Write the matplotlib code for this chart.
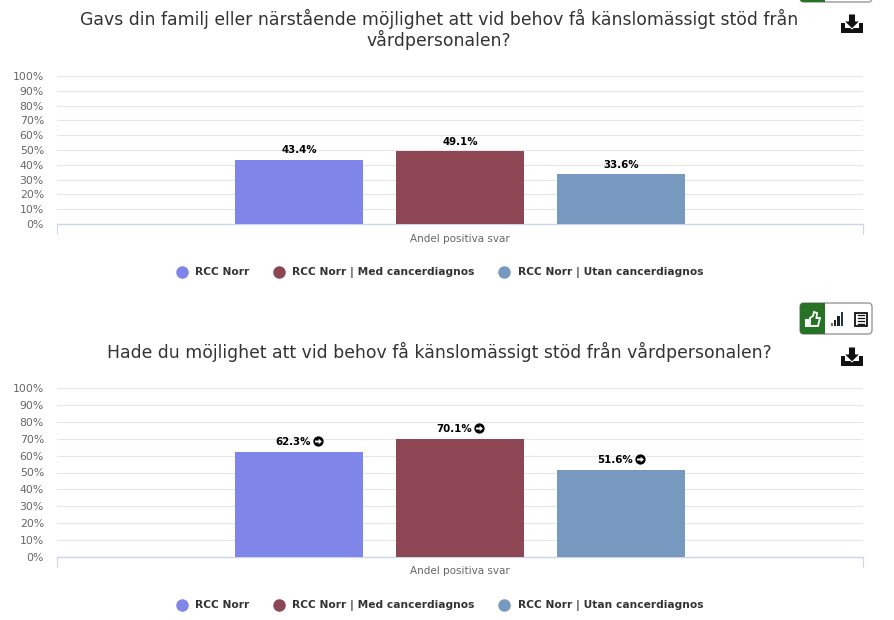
import matplotlib
matplotlib.use("Agg")
import matplotlib.pyplot as plt
from matplotlib.patches import FancyBboxPatch, Rectangle, Polygon
from matplotlib.lines import Line2D
from matplotlib.transforms import Affine2D

W, H = 895, 620
TITLE_1 = "Gavs din familj eller närstående möjlighet att vid behov få känslomässigt stöd från\nvårdpersonalen?"
TITLE_2 = "Hade du möjlighet att vid behov få känslomässigt stöd från vårdpersonalen?"
SERIES = ["RCC Norr", "RCC Norr | Med cancerdiagnos", "RCC Norr | Utan cancerdiagnos"]
VALUES_1 = [43.4, 49.1, 33.6]
VALUES_2 = [62.3, 70.1, 51.6]
COLORS = ["#8085e9", "#8d4654", "#7798bf"]
CATEGORY = "Andel positiva svar"
TICKS = list(range(0, 101, 10))
LEGEND_MARK_X = [182, 279, 504]
LEGEND_TEXT_X = [195, 292, 518]
ARROW = [(-1, .28), (0.05, .28), (0.05, .8), (1, 0), (0.05, -.8), (0.05, -.28), (-1, -.28)]

plt.rcParams["font.family"] = ["DejaVu Sans"]
fig = plt.figure(figsize=(W / 100, H / 100), dpi=100, facecolor="white")
px = Affine2D().scale(1, -1).translate(0, H)  # pixel coords, y down


def make_axes(top, bottom):
    ax = fig.add_axes([57 / W, 1 - bottom / H, (863 - 57) / W, (bottom - top) / H])
    ax.set_xlim(-2.503, 2.503)
    ax.set_ylim(0, 100)
    return ax


def draw_chart(ax, values, title, title_y, legend_y, arrows):
    xs = [-1, 0, 1]
    ax.bar(xs, values, width=0.795, color=COLORS, zorder=3, linewidth=0)
    for s in ["top", "left", "right"]:
        ax.spines[s].set_visible(False)
    ax.spines["bottom"].set_color("#ccd6eb")
    ax.spines["bottom"].set_linewidth(1)
    ax.set_yticks(TICKS)
    ax.set_yticklabels([f"{t}%" for t in TICKS], fontsize=7.8, color="#666666")
    ax.tick_params(axis="y", length=0, pad=9.4)
    ax.grid(axis="y", color="#e6e6e6", linewidth=0.8, zorder=0)
    ax.set_axisbelow(True)
    ax.set_xticks([-2.503, 2.503])
    ax.set_xticklabels(["", ""])
    ax.tick_params(axis="x", length=7.2, color="#ccd6eb", width=0.8, direction="out")
    ax.text(0, -9.5 / ax.bbox.height, CATEGORY, transform=ax.get_xaxis_transform(),
            ha="center", va="top", fontsize=7.5, color="#666666")

    for x, v in zip(xs, values):
        off = -4 if arrows else 0
        ax.annotate(f"{v:.1f}%", (x, v), xytext=(off, 3.2), textcoords="offset points",
                    ha="center", va="bottom", fontsize=7.4, fontweight="bold", color="black", zorder=5)
        if arrows:
            shift = ax.transData + Affine2D().translate(19, 11)
            ax.plot([x], [v], marker="o", ms=7.4, color="black", mew=0, zorder=6, clip_on=False, transform=shift)
            ax.plot([x], [v], marker=ARROW, ms=5, color="white", mew=0, zorder=7, clip_on=False, transform=shift)

    fig.text(439 / W, 1 - title_y / H, title, ha="center", va="center", fontsize=12.43,
             color="#333333", linespacing=1.1)

    for name, color, mx, tx in zip(SERIES, COLORS, LEGEND_MARK_X, LEGEND_TEXT_X):
        fig.add_artist(Line2D([mx], [legend_y], marker="o", ls="", ms=9, color=color, mew=0, transform=px))
        fig.text(tx / W, 1 - (legend_y + 3.5) / H, name, ha="left", va="baseline", fontsize=7.66,
                 fontweight="bold", color="#333333")


def download_icon(cx, top):
    c = "#111111"
    fig.add_artist(Polygon([(cx - 11, top + 9), (cx - 7, top + 9), (cx - 7, top + 14), (cx + 7, top + 14),
                            (cx + 7, top + 9), (cx + 11, top + 9), (cx + 11, top + 19), (cx - 11, top + 19)],
                           closed=True, fc=c, ec="none", transform=px))
    fig.add_artist(Polygon([(cx - 3.5, top), (cx + 3.5, top), (cx + 3.5, top + 7), (cx + 8, top + 7),
                            (cx, top + 15), (cx - 8, top + 7), (cx - 3.5, top + 7)],
                           closed=True, fc=c, ec="white", lw=0.7, transform=px))


def button_group(x0, y0, x1, y1):
    fig.add_artist(FancyBboxPatch((x0 + 3, y0 + 3), x1 - x0 - 6, y1 - y0 - 6,
                                  boxstyle="round,pad=3,rounding_size=4", fc="white", ec="#999999",
                                  lw=1, transform=px))
    fig.add_artist(FancyBboxPatch((x0 + 3, y0 + 3), 19, y1 - y0 - 6,
                                  boxstyle="round,pad=3,rounding_size=3", fc="#267326", ec="none",
                                  transform=px))
    fig.add_artist(Rectangle((x0 + 16, y0), 9, y1 - y0, fc="#267326", ec="none", transform=px))


def button_icons(x0, y0):
    # thumbs up
    fig.add_artist(Polygon([(x0 + 5, y0 + 16), (x0 + 8, y0 + 16), (x0 + 8, y0 + 23), (x0 + 5, y0 + 23)],
                           closed=True, fc="white", ec="white", lw=0.8, transform=px))
    fig.add_artist(Polygon([(x0 + 10, y0 + 15), (x0 + 13, y0 + 13), (x0 + 14, y0 + 9), (x0 + 17, y0 + 10),
                            (x0 + 16.5, y0 + 15), (x0 + 20, y0 + 15), (x0 + 18, y0 + 23), (x0 + 10, y0 + 23)],
                           closed=True, fc="none", ec="white", lw=1.3, transform=px))
    # bars
    for i, (bh, col) in enumerate(zip([3, 6, 10, 14], ["#7a6a3a", "#222222", "#222222", "#223355"])):
        fig.add_artist(Rectangle((x0 + 30.5 + i * 3.4, y0 + 23 - bh), 2.4, bh, fc=col, ec="none", transform=px))
    # table
    fig.add_artist(Rectangle((x0 + 55, y0 + 9.5), 11.5, 13.5, fc="white", ec="#111111", lw=1.3, transform=px))
    for k in range(4):
        fig.add_artist(Line2D([x0 + 57.5, x0 + 64], [y0 + 12.2 + k * 2.8] * 2, color="#111111", lw=0.9,
                              transform=px))


ax1 = make_axes(76, 224)
draw_chart(ax1, VALUES_1, TITLE_1, 29.5, 271.5, False)
ax2 = make_axes(388, 557)
draw_chart(ax2, VALUES_2, TITLE_2, 352, 604.5, True)

button_group(800, -30, 872, 2)
button_group(800, 303, 872, 334)
button_icons(800, 303)
download_icon(852, 14)
download_icon(852, 347)

fig.savefig("out.png", dpi=100, facecolor="white")
